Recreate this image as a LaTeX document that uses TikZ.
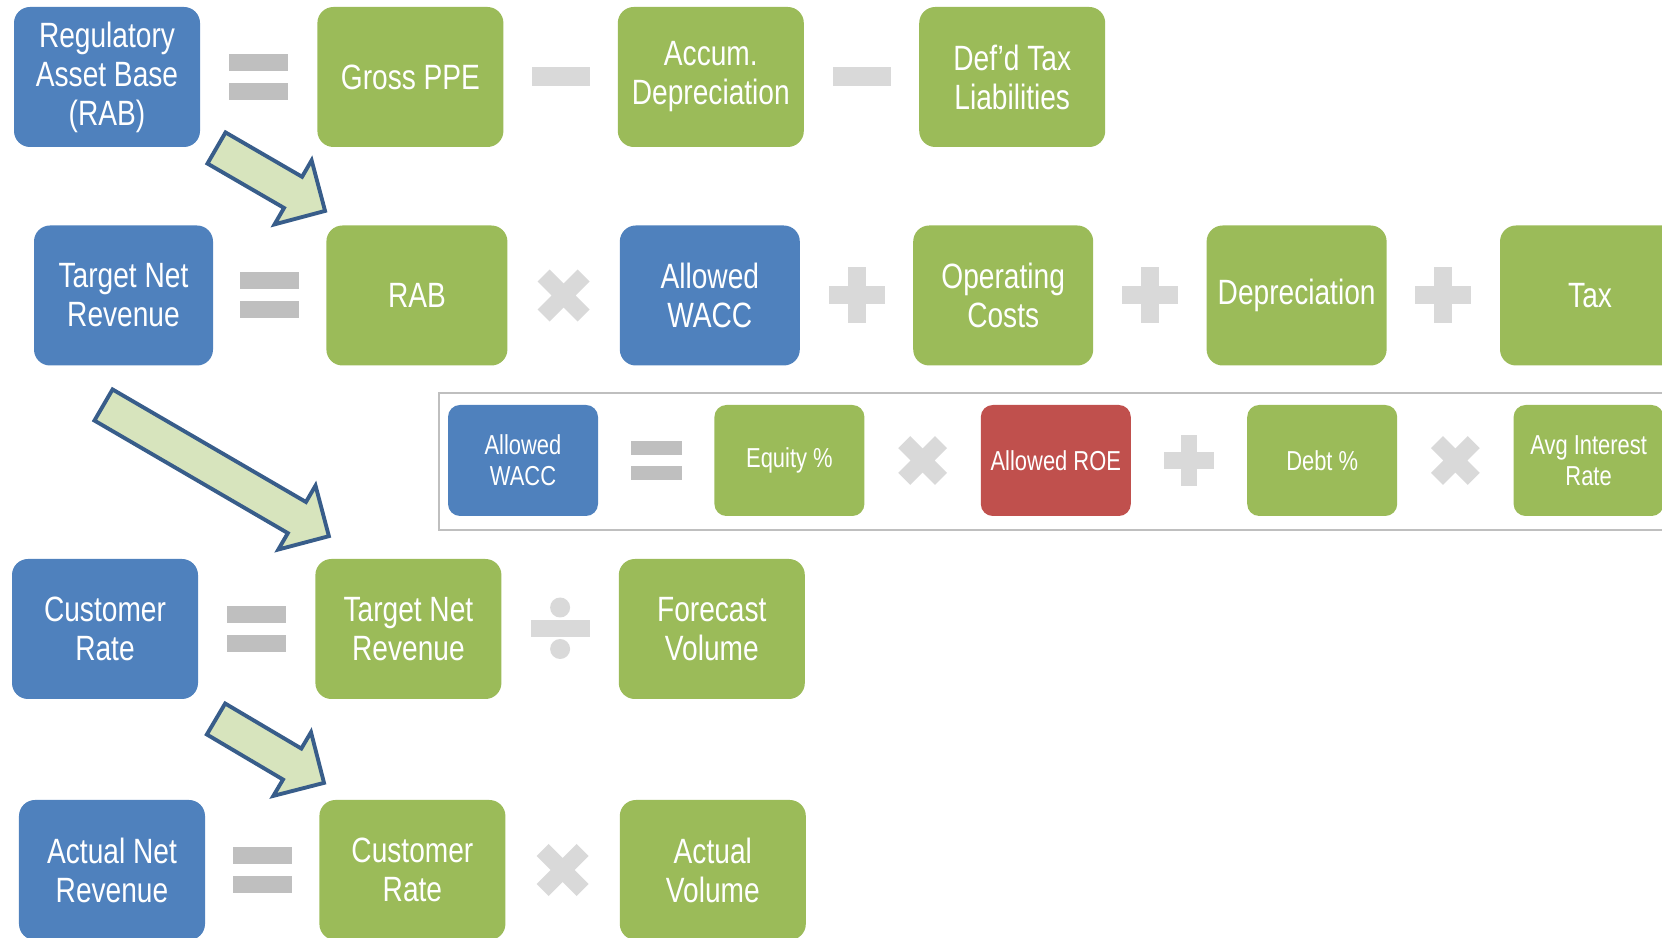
\documentclass[tikz,border=0pt]{standalone}
\usepackage{fontspec}
\setmainfont{Liberation Sans}[FakeStretch=0.8]
\usepackage{xcolor}
\definecolor{accblue}{HTML}{4F81BD}
\definecolor{accgreen}{HTML}{9BBB59}
\definecolor{accred}{HTML}{C0504D}
\definecolor{opgray}{HTML}{D9D9D9}
\definecolor{eqgray}{HTML}{BFBFBF}
\definecolor{arrfill}{HTML}{D7E4BD}
\definecolor{arrline}{HTML}{385D8A}
\usetikzlibrary{positioning,calc}

\tikzset{
  eqop/.pic={\fill[eqgray] (-0.295,0.06) rectangle (0.295,0.23);
             \fill[eqgray] (-0.295,-0.06) rectangle (0.295,-0.23);},
  minusop/.pic={\fill[opgray] (-0.29,-0.095) rectangle (0.29,0.095);},
  plusop/.pic={\fill[opgray] (-0.28,-0.09) rectangle (0.28,0.09);
               \fill[opgray] (-0.09,-0.28) rectangle (0.09,0.28);},
  timesop/.pic={\draw[opgray,line width=0.17cm] (-0.2,-0.2) -- (0.2,0.2) (-0.2,0.2) -- (0.2,-0.2);},
  divop/.pic={\fill[opgray] (-0.295,-0.085) rectangle (0.295,0.085);
              \fill[opgray] (0,0.215) circle (0.1) (0,-0.2) circle (0.1);}
}

% block arrow: tail point, angle, length
\newcommand{\blockarrow}[3]{%
  \begin{scope}[shift={(#1)},rotate=#2]
    \draw[barrow] (0,0.18) -- ({#3-0.37},0.18) -- ({#3-0.37},0.37) -- (#3,0)
      -- ({#3-0.37},-0.37) -- ({#3-0.37},-0.18) -- (0,-0.18) -- cycle;
  \end{scope}}

\begin{document}
\begin{tikzpicture}[node distance=1.15cm]
  \tikzstyle{formbox}=[rectangle,rounded corners=0.16cm,text=white,align=center,inner sep=0pt,
                       minimum width=1.86cm,minimum height=1.4cm,font=\fontsize{10}{11.1}\selectfont]
  \tikzstyle{bluebox}=[formbox,fill=accblue]
  \tikzstyle{greenbox}=[formbox,fill=accgreen]
  \tikzstyle{redbox}=[formbox,fill=accred]
  \tikzstyle{small}=[minimum width=1.5cm,minimum height=1.11cm,rounded corners=0.12cm,
                     font=\fontsize{7.8}{8.8}\selectfont]
  \tikzstyle{barrow}=[fill=arrfill,draw=arrline,line width=1.1pt]

  \useasboundingbox (0,0) rectangle (16.62,9.38);
  \clip (0,0) rectangle (16.62,9.38);

  % RAB
  \node[bluebox]  (rab)    at (1.07,8.61)           {Regulatory\\Asset Base\\(RAB)};
  \node[greenbox] (gppe)   [right=1.16cm of rab]    {Gross PPE};
  \node[greenbox] (accdep) [right=1.13cm of gppe]   {Accum.\\Depreciation};
  \node[greenbox] (dtl)    [right=1.14cm of accdep] {Def'd Tax\\Liabilities};
  \pic at ($(rab.east)!0.5!(gppe.west)$)    {eqop};
  \pic at ($(gppe.east)!0.5!(accdep.west)$) {minusop};
  \pic at ($(accdep.east)!0.5!(dtl.west)$)  {minusop};

  % target net revenue
  \node[bluebox,minimum width=1.79cm]  (tnr)  at (1.235,6.425)       {Target Net\\Revenue};
  \node[greenbox,minimum width=1.81cm] (rab2) [right=1.12cm of tnr]  {RAB};
  \node[bluebox,minimum width=1.8cm]   (wacc) [right=1.11cm of rab2] {Allowed\\WACC};
  \node[greenbox,minimum width=1.8cm]  (opex) [right=1.12cm of wacc] {Operating\\Costs};
  \node[greenbox,minimum width=1.8cm]  (dep)  [right=1.12cm of opex] {Depreciation};
  \node[greenbox,minimum width=1.8cm]  (tax)  [right=1.12cm of dep]  {Tax};
  \pic at ($(tnr.east)!0.5!(rab2.west)$)  {eqop};
  \pic at ($(rab2.east)!0.5!(wacc.west)$) {timesop};
  \pic at ($(wacc.east)!0.5!(opex.west)$) {plusop};
  \pic at ($(opex.east)!0.5!(dep.west)$)  {plusop};
  \pic at ($(dep.east)!0.5!(tax.west)$)   {plusop};

  % WACC
  \draw[eqgray,line width=0.8pt] (4.39,4.08) rectangle (17.2,5.45);
  \node[bluebox,small]  (swacc) at (5.23,4.775)         {Allowed\\WACC};
  \node[greenbox,small] (eqty)  [right=1.15cm of swacc] {Equity \%};
  \node[redbox,small]   (roe)   [right=1.15cm of eqty]  {Allowed ROE};
  \node[greenbox,small] (debt)  [right=1.15cm of roe]   {Debt \%};
  \node[greenbox,small] (intr)  [right=1.15cm of debt]  {Avg Interest\\Rate};
  \pic[scale=0.86] at ($(swacc.east)!0.5!(eqty.west)$) {eqop};
  \pic[scale=0.92] at ($(eqty.east)!0.5!(roe.west)$)   {timesop};
  \pic[scale=0.9]  at ($(roe.east)!0.5!(debt.west)$)   {plusop};
  \pic[scale=0.92] at ($(debt.east)!0.5!(intr.west)$)  {timesop};

  % customer rate
  \node[bluebox]  (crate) at (1.05,3.09)           {Customer\\Rate};
  \node[greenbox] (tnr2)  [right=1.16cm of crate] {Target Net\\Revenue};
  \node[greenbox] (fvol)  [right=1.16cm of tnr2]  {Forecast\\Volume};
  \pic at ($(crate.east)!0.5!(tnr2.west)$) {eqop};
  \pic at ($(tnr2.east)!0.5!(fvol.west)$)  {divop};

  % actual net revenue
  \node[bluebox]  (anr)    at (1.12,0.68)          {Actual Net\\Revenue};
  \node[greenbox] (crate2) [right=1.13cm of anr]    {Customer\\Rate};
  \node[greenbox] (avol)   [right=1.13cm of crate2] {Actual\\Volume};
  \pic at ($(anr.east)!0.5!(crate2.west)$)  {eqop};
  \pic at ($(crate2.east)!0.5!(avol.west)$) {timesop};

  % feed arrows
  \coordinate (a1) at (2.165,7.90);
  \coordinate (a2) at (1.035,5.33);
  \coordinate (a3) at (2.16,2.19);
  \blockarrow{a1}{-30.1}{1.255}
  \blockarrow{a2}{-30.2}{2.608}
  \blockarrow{a3}{-30.6}{1.255}
\end{tikzpicture}
\end{document}
